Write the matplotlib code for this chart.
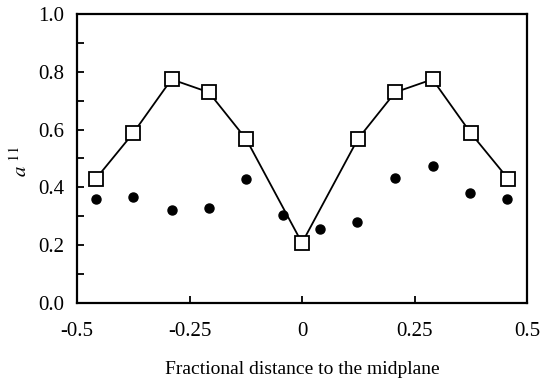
import numpy as np
import matplotlib
matplotlib.use("Agg")
import matplotlib.pyplot as plt
from matplotlib.ticker import MultipleLocator

# data
x_sq = [-0.458, -0.375, -0.29, -0.207, -0.124, 0.0, 0.124, 0.207, 0.29, 0.375, 0.458]
y_sq = [0.43, 0.588, 0.774, 0.729, 0.567, 0.208, 0.567, 0.729, 0.774, 0.588, 0.43]
x_dot = [-0.458, -0.375, -0.29, -0.207, -0.124, -0.042, 0.04, 0.122, 0.207, 0.291, 0.373, 0.456]
y_dot = [0.36, 0.367, 0.322, 0.329, 0.429, 0.304, 0.256, 0.28, 0.432, 0.474, 0.38, 0.36]
xticks = [-0.5, -0.25, 0, 0.25, 0.5]
xticklabels = ["-0.5", "-0.25", "0", "0.25", "0.5"]

plt.rcParams['font.family'] = ['Liberation Serif', 'DejaVu Serif']
plt.rcParams['mathtext.fontset'] = 'stix'

fig = plt.figure(figsize=(5.4, 3.78), dpi=100)
ax = fig.add_axes([77/540, 1 - 303/378, 450/540, 289/378])

ax.plot(x_sq, y_sq, color='black', lw=1.3, marker='s', markersize=10.5,
        markerfacecolor='white', markeredgecolor='black', markeredgewidth=1.3, zorder=3)
ax.plot(x_dot, y_dot, linestyle='none', marker='o', markersize=6.5,
        color='black', zorder=3)

ax.set_xlim(-0.5, 0.5)
ax.set_ylim(0, 1.0)
ax.set_xticks(xticks)
ax.set_xticklabels(xticklabels)
ax.yaxis.set_major_locator(MultipleLocator(0.2))
ax.yaxis.set_minor_locator(MultipleLocator(0.1))
ax.yaxis.set_major_formatter(matplotlib.ticker.FormatStrFormatter('%.1f'))
ax.tick_params(direction='in', length=5, width=1.3, labelsize=15)
ax.tick_params(axis='x', pad=14)
ax.tick_params(axis='y', pad=9)
ax.tick_params(axis='y', which='minor', direction='in', length=5, width=1.3)
for s in ax.spines.values():
    s.set_linewidth(1.6)

ax.set_xlabel('Fractional distance to the midplane', fontsize=14, labelpad=14)
ax.set_ylabel(r'$a\ ^{11}$', fontsize=15)
ax.yaxis.set_label_coords(-0.1, 0.49)

fig.savefig('out.png', dpi=100)
